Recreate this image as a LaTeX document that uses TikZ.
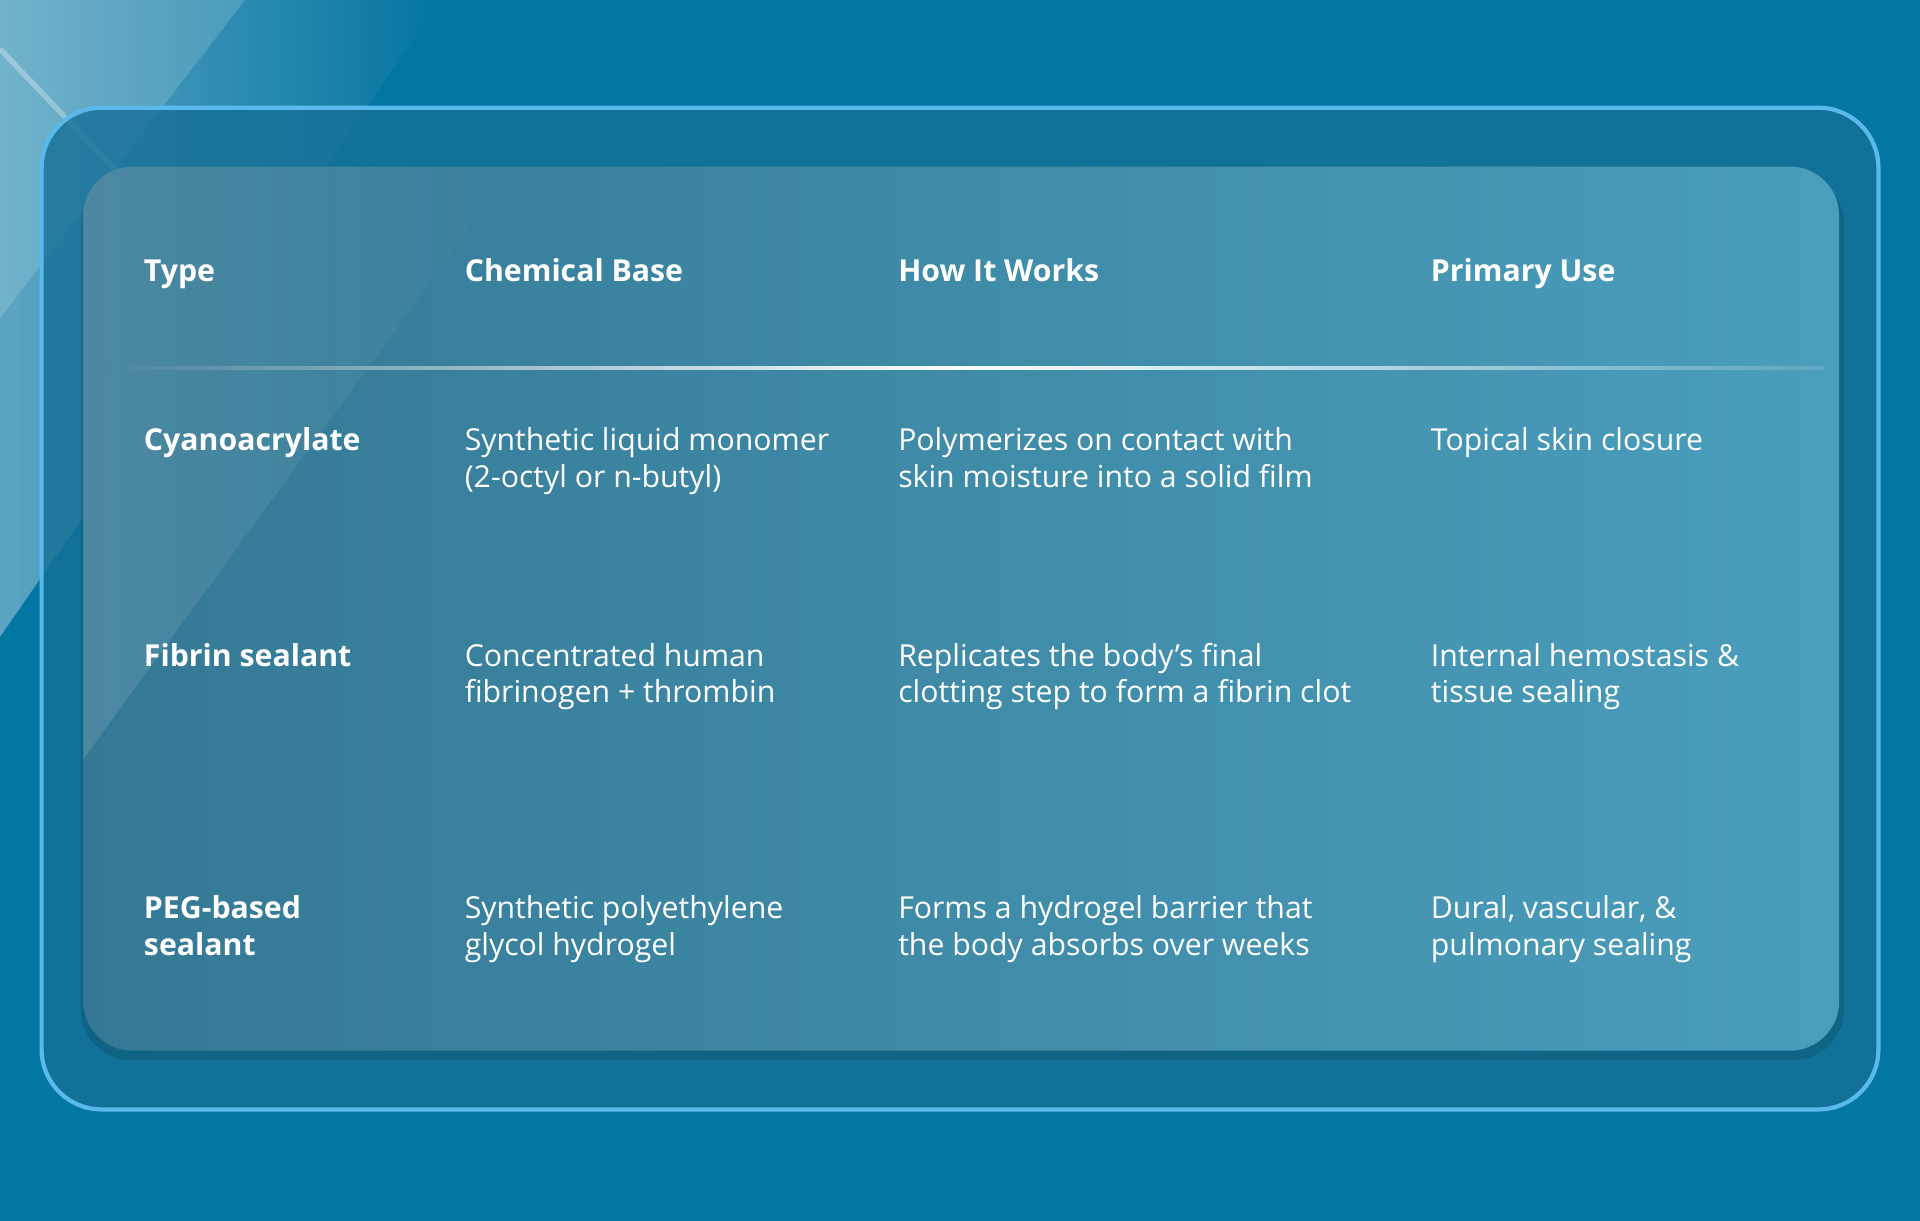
\documentclass[tikz,border=0pt]{standalone}
\usepackage{fontspec}
\setmainfont{Open Sans}
\usetikzlibrary{fadings}
\definecolor{bg}{RGB}{4,118,162}
\definecolor{panel}{RGB}{22,112,150}
\definecolor{edge}{RGB}{90,185,235}
\definecolor{cardL}{RGB}{52,120,148}
\definecolor{cardR}{RGB}{74,158,188}
\tikzset{
 hdr/.style={anchor=base west,font=\bfseries\fontsize{8.6}{10.4}\selectfont,text=white,inner sep=0},
 cell/.style={anchor=base west,font=\fontsize{8.6}{10.4}\selectfont,text=white,inner sep=0,align=left},
 rowhead/.style={cell,font=\bfseries\fontsize{8.6}{10.4}\selectfont}
}
\begin{document}
\begin{tikzpicture}[x=0.012245cm,y=-0.012245cm]
\useasboundingbox (0,0) rectangle (1568,997);
\fill[bg] (0,0) rectangle (1568,997);
% light rays
\fill[white,opacity=0.35,path fading=east] (0,0) -- (360,0) -- (0,520) -- cycle;
\fill[white,opacity=0.15] (0,0) -- (200,0) -- (0,260) -- cycle;
\draw[white,opacity=0.3,line width=1.5pt] (0,40) -- (420,480);
% outer panel
\fill[panel,opacity=0.8,rounded corners=17pt] (34,88) rectangle (1534,906);
\draw[edge,line width=1.2pt,rounded corners=17pt] (34,88) rectangle (1534,906);
% shadow
\fill[black,opacity=0.12,rounded corners=14.5pt] (66,142) rectangle (1506,866);
% card
\shade[left color=cardL,right color=cardR,rounded corners=14pt] (68,136) rectangle (1502,858);
\begin{scope}
\clip[rounded corners=14pt] (68,136) rectangle (1502,858);
\fill[white,opacity=0.12,path fading=east] (68,136) -- (420,136) -- (68,620) -- cycle;
\end{scope}
% divider
\shade[left color=white!10!cardL,right color=white!10!cardR,middle color=white] (80,299) rectangle (1490,301.5);
% header
\node[hdr] (h1) at (117,230) {Type};
\node[hdr] (h2) at (379,230) {Chemical Base};
\node[hdr] (h3) at (733,230) {How It Works};
\node[hdr] (h4) at (1168,230) {Primary Use};
% rows
\node[rowhead] (r1a) at (117,368) {Cyanoacrylate};
\node[cell] (r1b) at (379,398) {Synthetic liquid monomer\\(2-octyl or n-butyl)};
\node[cell] (r1c) at (733,398) {Polymerizes on contact with\\skin moisture into a solid film};
\node[cell] (r1d) at (1168,368) {Topical skin closure};
\node[rowhead] (r2a) at (117,544) {Fibrin sealant};
\node[cell] (r2b) at (379,574) {Concentrated human\\fibrinogen + thrombin};
\node[cell] (r2c) at (733,574) {Replicates the body's final\\clotting step to form a fibrin clot};
\node[cell] (r2d) at (1168,574) {Internal hemostasis \&\\tissue sealing};
\node[rowhead] (r3a) at (117,780) {PEG-based\\sealant};
\node[cell] (r3b) at (379,780) {Synthetic polyethylene\\glycol hydrogel};
\node[cell] (r3c) at (733,780) {Forms a hydrogel barrier that\\the body absorbs over weeks};
\node[cell] (r3d) at (1168,780) {Dural, vascular, \&\\pulmonary sealing};
\end{tikzpicture}
\end{document}
